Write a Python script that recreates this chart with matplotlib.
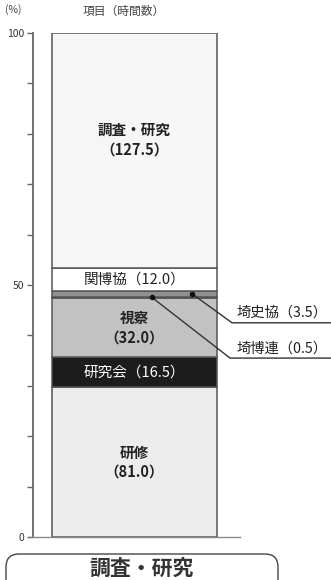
import matplotlib
matplotlib.use("Agg")
import matplotlib.pyplot as plt
from matplotlib.patches import FancyBboxPatch
import numpy as np

plt.rcParams['font.family'] = ['Noto Sans CJK JP', 'DejaVu Sans']

# items (bottom to top) and hours
items = ['研修', '研究会', '視察', '埼博連', '埼史協', '関博協', '調査・研究']
hours = [81.0, 16.5, 32.0, 0.5, 3.5, 12.0, 127.5]
colors = ['#ececec', '#1c1c1c', '#c2c2c2', '#2a2a2a', '#909090', '#ffffff', '#f6f6f6']
text_colors = ['#222222', '#ffffff', '#222222', None, None, '#222222', '#222222']
inside = [True, True, True, False, False, True, True]
two_lines = [True, False, True, False, False, False, True]

pct = np.array(hours) / sum(hours) * 100
bottoms = np.concatenate([[0], np.cumsum(pct)[:-1]])

fig = plt.figure(figsize=(3.31, 5.80), dpi=100)

# background axes in pixel units, for the caption box
bg = fig.add_axes([0, 0, 1, 1], zorder=0)
bg.set_xlim(0, 331)
bg.set_ylim(580, 0)
bg.axis('off')
box = FancyBboxPatch((6, 554), 272, 40,
                     boxstyle='round,pad=0,rounding_size=13',
                     facecolor='white', edgecolor='#444444', linewidth=1.0)
bg.add_patch(box)
bg.text(142, 568, '調査・研究', fontsize=15, fontweight='bold',
        ha='center', va='center', color='#333333')
bg.text(5, 10, '(%)', fontsize=7.5, color='#444444', va='center')
bg.text(83, 11, '項目（時間数）', fontsize=8.5, color='#444444', va='center')

# axes: x in pixels from the axis line, y in percent
ax = fig.add_axes([33/331, 43/580, 298/331, 504/580], zorder=1)
ax.patch.set_alpha(0)
ax.set_xlim(0, 298)
ax.set_ylim(0, 100)

bar_x = 101.5
bar_w = 165
ax.bar(bar_x, pct, width=bar_w, bottom=bottoms, color=colors,
       edgecolor='#555555', linewidth=1.1, zorder=2)

for i, name in enumerate(items):
    if not inside[i]:
        continue
    y = bottoms[i] + pct[i] / 2
    if name == '調査・研究':
        y += 2.2
    if two_lines[i]:
        label = f'{name}\n（{hours[i]:.1f}）'
        ax.text(bar_x, y, label, ha='center', va='center', fontsize=10.5,
                fontweight='bold', color=text_colors[i], linespacing=1.25, zorder=3)
    else:
        label = f'{name}（{hours[i]:.1f}）'
        ax.text(bar_x, y, label, ha='center', va='center', fontsize=10.5,
                color=text_colors[i], zorder=3)

# leader lines for the thin segments
leaders = {
    '埼史協': (159, 42.5, 44.6),
    '埼博連': (119, 35.5, 37.3),
}
elbow_x = {'埼史協': 199, '埼博連': 197}
for name, (dot_x, line_y, text_y) in leaders.items():
    i = items.index(name)
    y0 = bottoms[i] + pct[i] / 2
    ax.plot([dot_x, elbow_x[name], 298], [y0, line_y, line_y],
            color='#333333', lw=1.0, clip_on=False, zorder=4)
    ax.plot([dot_x], [y0], 'o', ms=3, color='#111111', zorder=5, clip_on=False)
    ax.text(204, text_y, f'{name}（{hours[i]:.1f}）', ha='left', va='center',
            fontsize=10.3, color='#222222', clip_on=False)

# axes styling
for s in ['top', 'right']:
    ax.spines[s].set_visible(False)
ax.spines['left'].set_color('#666666')
ax.spines['left'].set_linewidth(1.3)
ax.spines['bottom'].set_color('#888888')
ax.spines['bottom'].set_linewidth(1.0)
ax.spines['bottom'].set_bounds(-3, 207)
ax.set_xticks([])
ax.set_yticks(np.arange(0, 101, 10))
ax.set_yticklabels(['0', '', '', '', '', '50', '', '', '', '', '100'])
ax.tick_params(axis='y', direction='out', length=4, width=1.0, color='#666666',
               labelsize=7.5, pad=2, labelcolor='#333333')

fig.savefig('out.png', dpi=100)
